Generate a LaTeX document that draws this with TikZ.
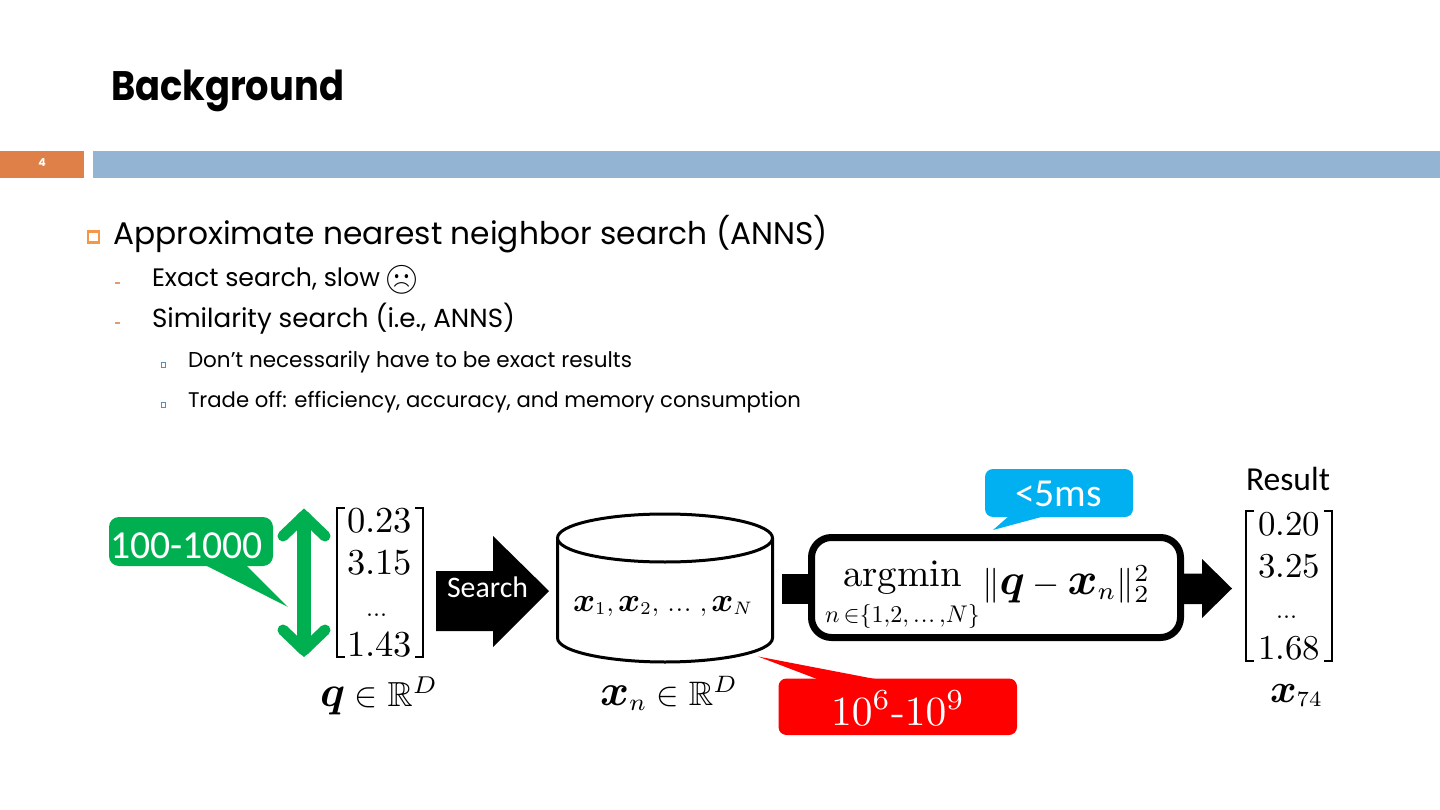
\documentclass[tikz,border=0pt]{standalone}
\usepackage{amsmath,amssymb}
\usepackage{graphicx}
\usepackage{fontspec}
\newfontfamily\pop{Poppins}
\newfontfamily\calb{Carlito}
\newfontfamily\emo{Noto Emoji}
\newcommand{\fs}[1]{\fontsize{#1pt}{#1pt}\selectfont}
\newcommand{\fitw}[2]{\resizebox{#1pt}{!}{#2}}
\newcommand{\mf}[2]{\resizebox{#1pt}{!}{\fs{10}#2}}
\newcommand{\tdots}{\mathinner{.\kern0.4pt.\kern0.4pt.}}
\newcommand{\bx}{\scalebox{1.3}{$\boldsymbol{x}$}}
\newcommand{\bq}{\scalebox{1.25}{$\boldsymbol{q}$}}
\definecolor{barblue}{HTML}{93B4D2}
\definecolor{barorange}{HTML}{DF8048}
\definecolor{bulorange}{HTML}{F79646}
\definecolor{bulblue}{HTML}{5B8DB8}
\definecolor{cgreen}{HTML}{00B050}
\definecolor{cblue}{HTML}{00B0F0}
\definecolor{cred}{HTML}{FF0000}
\tikzset{
  lbl/.style={anchor=base west,inner sep=0pt,outer sep=0pt,black},
  wlbl/.style={lbl,white},
  brk/.style={line width=2pt,black},
  blockarrow/.style={fill=black,draw=none},
  garm/.style={cgreen,line width=11pt,line cap=round},
}
\begin{document}
\begin{tikzpicture}[x=1pt,y=-1pt]
\useasboundingbox (0,0) rectangle (1440,810);
\fill[white] (0,0) rectangle (1440,810);
% header
\node[lbl] (title) at (111,101) {\scalebox{1}[1.12]{\fitw{233}{\pop\fs{40}\bfseries Background}}};
\fill[barorange] (0,151) rectangle (84,178);
\fill[barblue] (93,151) rectangle (1440,178);
\node[anchor=center,inner sep=0pt,white] (pageno) at (42,163) {\pop\fs{11}\bfseries 4};
% bullets
\draw[bulorange,line width=2.6pt] (88,231.5) rectangle (99,242.5);
\node[lbl] (t1) at (113,245) {\fitw{715}{\pop\fs{32}Approximate nearest neighbor search (ANNS)}};
\fill[barorange!80] (115,282) rectangle (120,284);
\fill[barorange!80] (115,322) rectangle (120,324);
\node[lbl] (t2) at (152,287) {\fitw{228}{\pop\fs{26}Exact search, slow}};
\node[anchor=center,inner sep=0pt] (sad) at (401.5,280) {\fitw{36}{\emo\fs{26}☹}};
\node[lbl] (t3) at (152,327) {\fitw{363}{\pop\fs{26}Similarity search (i.e., ANNS)}};
\draw[bulblue,line width=1pt] (161,362.5) rectangle (165,367);
\draw[bulblue,line width=1pt] (161,402.5) rectangle (165,407);
\node[lbl] (t4) at (188,367) {\fitw{444}{\pop\fs{22}Don’t necessarily have to be exact results}};
\node[lbl] (t5) at (188,407) {\fitw{613}{\pop\fs{22}Trade off: efficiency, accuracy, and memory consumption}};
% green double arrow
\draw[garm] (283,536)--(304,516);
\draw[garm] (325,536)--(304,516);
\draw[garm] (283,630)--(304,650);
\draw[garm] (325,630)--(304,650);
\fill[cgreen] (304,508.5)--(296,516)--(312,516)--cycle;
\fill[cgreen] (304,657)--(296,650)--(312,650)--cycle;
\draw[cgreen,line width=14pt] (304,515)--(304,651);
% green callout
\fill[cgreen,rounded corners=10pt] (109,517) rectangle (273,566);
\fill[cgreen] (205,565)--(288,607)--(246,565)--cycle;
\node[wlbl] (c1) at (110,558) {\fitw{153}{\calb\fs{39}100-1000}};
% q matrix
\draw[brk] (345,507.5)--(337,507.5)--(337,657)--(345,657);
\draw[brk] (415,507.5)--(423,507.5)--(423,657)--(415,657);
\node[lbl] (q1) at (347,532) {\mf{65}{0.23}};
\node[lbl] (q2) at (347,574) {\mf{65}{3.15}};
\node[lbl] (q3) at (366,616) {\mf{21}{...}};
\node[lbl] (q4) at (347,656) {\mf{65}{1.43}};
\node[lbl] (qlab) at (320,706) {\mf{118}{$\bq\in\mathbb{R}^{D}$}};
% Search arrow
\fill[blockarrow] (436,571)--(493,571)--(493,536)--(549,591)--(493,647)--(493,631)--(436,631)--cycle;
\node[wlbl] (search) at (447,597) {\fitw{81}{\calb\fs{30}Search}};
% cylinder
\draw[black,line width=3pt,fill=white] (557.5,538)--(557.5,638) .. controls (557.5,652) and (610,662) .. (665,662) .. controls (720,662) and (772.5,652) .. (772.5,638) -- (772.5,538);
\draw[black,line width=3pt,fill=white] (665,538) ellipse [x radius=107.5,y radius=24];
\node[lbl] (xs) at (573,611) {\mf{180}{$\bx_1{,}\,\bx_2{,}\,\tdots\,{,}\,\bx_N$}};
\node[lbl] (xlab) at (600,705) {\mf{138}{$\bx_n\in\mathbb{R}^{D}$}};
% connector stub
\fill[blockarrow] (782,574) rectangle (812,604);
% right arrow
\fill[blockarrow] (1180,573.5)--(1202,573.5)--(1202,559)--(1232,588.5)--(1202,618)--(1202,604)--(1180,604)--cycle;
% argmin box
\draw[black,line width=7pt,fill=white,rounded corners=20pt] (811.5,537.5) rectangle (1180.5,637.5);
\node[lbl] (argmin) at (843,586) {\mf{119}{argmin}};
\node[lbl] (argsub) at (825,622) {\mf{155}{$n\,{\in}\{1{,}2{,}\tdots{,}N\}$}};
\node[lbl] (norm) at (982,594) {\mf{168}{$\lVert\bq-\bx_n\rVert_2^2$}};
% blue callout
\fill[cblue,rounded corners=8pt] (985,469) rectangle (1133,517);
\fill[cblue] (1009,516)--(993,530)--(1045,516)--cycle;
\node[wlbl] (c2) at (1015,506) {\fitw{87}{\calb\fs{39.5}<5ms}};
% red callout
\fill[cred,rounded corners=8pt] (778.5,678.5) rectangle (1017,735);
\fill[cred] (758,656.5)--(817,679)--(875,679)--cycle;
\node[wlbl] (c3) at (831,725) {\mf{134}{$10^6$-$10^9$}};
% result
\node[lbl] (res) at (1246,490) {\fitw{84}{\calb\fs{33}Result}};
\draw[brk] (1254,511)--(1246,511)--(1246,660.5)--(1254,660.5);
\draw[brk] (1324,511)--(1332,511)--(1332,660.5)--(1324,660.5);
\node[lbl] (r1) at (1258,535) {\mf{62}{0.20}};
\node[lbl] (r2) at (1258,577) {\mf{62}{3.25}};
\node[lbl] (r3) at (1276,618) {\mf{21}{...}};
\node[lbl] (r4) at (1258,659) {\mf{62}{1.68}};
\node[lbl] (rlab) at (1270,702) {\mf{53}{$\bx_{74}$}};
\end{tikzpicture}
\end{document}
